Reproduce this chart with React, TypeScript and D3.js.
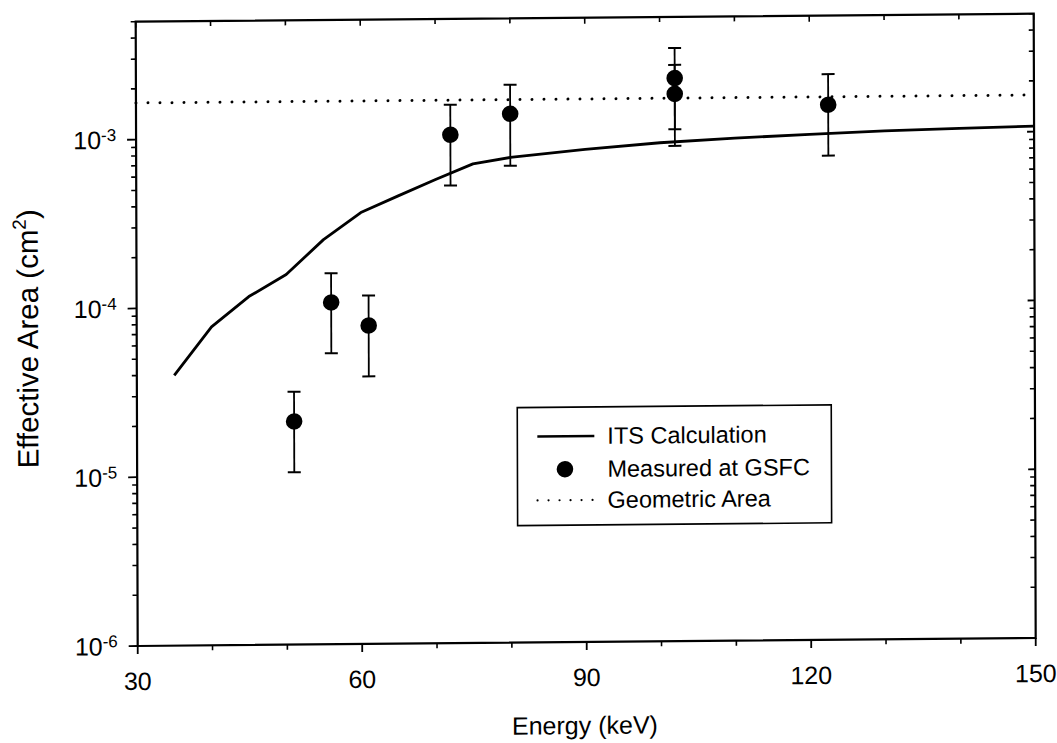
import React from 'react';
import * as d3 from 'd3';

// ITS calculation (solid curve)
const lineEnergy = [35, 40, 45, 50, 55, 60, 65, 70, 75, 80, 90, 100, 110, 120, 130, 140, 150];
const itsArea = [4.0e-5, 7.7e-5, 1.16e-4, 1.56e-4, 2.5e-4, 3.6e-4, 4.5e-4, 5.6e-4, 6.9e-4, 7.5e-4, 8.3e-4, 9.0e-4, 9.5e-4, 9.9e-4, 1.03e-3, 1.055e-3, 1.08e-3];

// Geometric area (dotted)
const geoEnergy = [30, 150];
const geoArea = [1.65e-3, 1.65e-3];

// Measured at GSFC
const measEnergy = [51, 56, 61, 72, 80, 102, 102, 122.5];
const measArea = [2.1e-5, 1.06e-4, 7.7e-5, 1.03e-3, 1.36e-3, 2.17e-3, 1.75e-3, 1.48e-3];
const errLow = [1.05e-5, 5.3e-5, 3.85e-5, 5.15e-4, 6.7e-4, 1.08e-3, 8.6e-4, 7.4e-4];
const errHigh = [3.15e-5, 1.58e-4, 1.16e-4, 1.55e-3, 2.02e-3, 3.27e-3, 2.6e-3, 2.25e-3];

const xMajor = [30, 60, 90, 120, 150];
const xMinor = [40, 50, 70, 80, 100, 110, 130, 140];
const yMajor = [1e-6, 1e-5, 1e-4, 1e-3];
const yExpLabels = ['-6', '-5', '-4', '-3'];

const legendLabels = ['ITS Calculation', 'Measured at GSFC', 'Geometric Area'];

const W = 1057, H = 743;
const L = 137.7, R = 1035.7, T = 21.7, B = 646;
const FONT = '"Liberation Sans", Arial, Helvetica, sans-serif';

export default function App() {
  const x = d3.scaleLinear().domain([30, 150]).range([L, R]);
  const y = d3.scaleLog().domain([1e-6, 5e-3]).range([B, T]);
  const yTicksAll = y.ticks();
  const yMinor = yTicksAll.filter(t => !yMajor.some(m => Math.abs(m - t) / t < 1e-6));

  const line = d3.line<[number, number]>().x(d => x(d[0])).y(d => y(d[1]));
  const itsPath = line(lineEnergy.map((e, i) => [e, itsArea[i]] as [number, number])) || '';
  const geoPath = line(geoEnergy.map((e, i) => [e, geoArea[i]] as [number, number])) || '';

  const capW = 6.5;
  const lgX = 518, lgY = 411, lgW = 314, lgH = 118;
  const rowY = [440, 473, 504];
  const sampleX0 = 538, sampleX1 = 595, textX = 608;

  return (
    <svg width={W} height={H} style={{ position: 'absolute', left: 0, top: 0, background: '#fff' }}
      fontFamily={FONT}>
      <g transform="matrix(1,-0.0089,0.0032,1,-2.07,1.226)">
        {/* frame */}
        <rect x={L} y={T} width={R - L} height={B - T} fill="none" stroke="#000" strokeWidth={2.2} />

        {/* x ticks bottom (outward) and top (inward) */}
        {xMajor.map(v => (
          <g key={'xM' + v}>
            <line x1={x(v)} x2={x(v)} y1={B} y2={B + 8} stroke="#000" strokeWidth={1.8} />
            <line x1={x(v)} x2={x(v)} y1={T} y2={T + 6} stroke="#000" strokeWidth={1.6} />
            <text x={x(v)} y={B + 44} fontSize={25} textAnchor="middle">{v}</text>
          </g>
        ))}
        {xMinor.map(v => (
          <g key={'xm' + v}>
            <line x1={x(v)} x2={x(v)} y1={B} y2={B + 5} stroke="#000" strokeWidth={1.6} />
            <line x1={x(v)} x2={x(v)} y1={T} y2={T + 5} stroke="#000" strokeWidth={1.6} />
          </g>
        ))}

        {/* y ticks left (outward) and right (inward) */}
        {yMajor.map((v, i) => (
          <g key={'yM' + i}>
            <line x1={L - 9} x2={L} y1={y(v)} y2={y(v)} stroke="#000" strokeWidth={1.8} />
            <line x1={R - 7} x2={R} y1={y(v)} y2={y(v)} stroke="#000" strokeWidth={1.8} />
            <text x={L - 35} y={y(v) + 9} fontSize={25} textAnchor="end">10</text>
            <text x={L - 35} y={y(v) + 1} fontSize={17} textAnchor="start">{yExpLabels[i]}</text>
          </g>
        ))}
        {yMinor.map((v, i) => (
          <g key={'ym' + i}>
            <line x1={L - 5} x2={L} y1={y(v)} y2={y(v)} stroke="#000" strokeWidth={1.6} />
            <line x1={R - 5} x2={R} y1={y(v)} y2={y(v)} stroke="#000" strokeWidth={1.6} />
          </g>
        ))}

        {/* axis titles */}
        <text x={(L + R) / 2 - 2} y={B + 92} fontSize={25} textAnchor="middle">Energy (keV)</text>
        <text transform={`translate(39,${(T + B) / 2 + 4}) rotate(-90)`} fontSize={29.5} textAnchor="middle">
          Effective Area (cm<tspan dy={-12} fontSize={19}>2</tspan><tspan dy={12}>)</tspan>
        </text>

        {/* geometric area dotted line */}
        <path d={geoPath} fill="none" stroke="#000" strokeWidth={3} strokeDasharray="0,12" strokeLinecap="round" />

        {/* ITS calculation */}
        <path d={itsPath} fill="none" stroke="#000" strokeWidth={2.8} strokeLinejoin="round" />

        {/* measured points with error bars */}
        {measEnergy.map((e, i) => (
          <g key={'p' + i}>
            <line x1={x(e)} x2={x(e)} y1={y(errLow[i])} y2={y(errHigh[i])} stroke="#000" strokeWidth={1.8} />
            <line x1={x(e) - capW} x2={x(e) + capW} y1={y(errLow[i])} y2={y(errLow[i])} stroke="#000" strokeWidth={2} />
            <line x1={x(e) - capW} x2={x(e) + capW} y1={y(errHigh[i])} y2={y(errHigh[i])} stroke="#000" strokeWidth={2} />
            <circle cx={x(e)} cy={y(measArea[i])} r={8.3} fill="#000" />
          </g>
        ))}

        {/* legend */}
        <rect x={lgX} y={lgY} width={lgW} height={lgH} fill="#fff" stroke="#000" strokeWidth={1.6} />
        <line x1={sampleX0} x2={sampleX1} y1={rowY[0]} y2={rowY[0]} stroke="#000" strokeWidth={2.4} />
        <circle cx={(sampleX0 + sampleX1) / 2 - 1} cy={rowY[1]} r={8.3} fill="#000" />
        <line x1={sampleX0} x2={sampleX1} y1={rowY[2]} y2={rowY[2]} stroke="#000" strokeWidth={2.2}
          strokeDasharray="0,11" strokeLinecap="round" />
        {legendLabels.map((t, i) => (
          <text key={t} x={textX} y={rowY[i] + 8} fontSize={23.5}>{t}</text>
        ))}
      </g>
    </svg>
  );
}
